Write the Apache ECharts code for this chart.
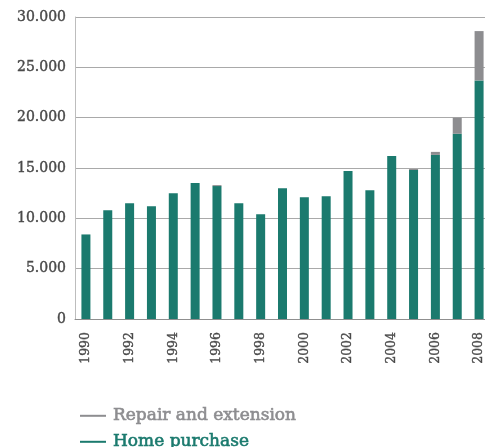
<!DOCTYPE html>
<html>
<head>
<meta charset="utf-8">
<script src="https://cdn.jsdelivr.net/npm/echarts@6/dist/echarts.min.js"></script>
<style>
  html, body { margin: 0; padding: 0; background: #fff; }
  #chart { width: 485px; height: 447px; }
</style>
</head>
<body>
<div id="chart"></div>
<script>
// Lending volumes per year, split into home purchase and repair/extension
const years = ['1990','1991','1992','1993','1994','1995','1996','1997','1998','1999',
               '2000','2001','2002','2003','2004','2005','2006','2007','2008'];
const homePurchase = [8400, 10800, 11500, 11200, 12500, 13500, 13200, 11500, 10400, 13000,
                      12100, 12200, 14700, 12800, 16200, 14800, 16300, 18400, 23700];
const repairExtension = [0, 0, 0, 0, 0, 0, 100, 0, 0, 0,
                         0, 0, 0, 0, 0, 100, 300, 1600, 4900];
const yTicks = [0, 5000, 10000, 15000, 20000, 25000, 30000];

const TEAL = '#1b7a6e';
const GREY = '#8d8d90';
const LABEL = '#4a4a4a';
const SERIF = '"DejaVu Serif", "Liberation Serif", serif';

function fmt(v) {
  return String(v).replace(/\B(?=(\d{3})+(?!\d))/g, '.');
}

// one legend entry per row, stacked under the chart
function legendRow(name, color, top) {
  return {
    left: 75,
    top: top,
    itemWidth: 26,
    itemHeight: 2,
    icon: 'rect',
    data: [name],
    textStyle: {
      fontFamily: SERIF,
      fontSize: 17,
      color: color,
      textBorderColor: color,
      textBorderWidth: 0.6,
      padding: [0, 0, 0, 2]
    }
  };
}

const chart = echarts.init(document.getElementById('chart'), null, { renderer: 'canvas' });
chart.setOption({
  animation: false,
  grid: { left: 75, top: 17, width: 415, height: 302, outerBoundsMode: 'none' },
  legend: [
    legendRow('Repair and extension', GREY, 402),
    legendRow('Home purchase', TEAL, 428)
  ],
  xAxis: {
    type: 'category',
    data: years,
    axisLine: { show: true, lineStyle: { color: '#8f8f8f', width: 1 } },
    axisTick: { show: false },
    axisLabel: {
      interval: 1,
      rotate: 90,
      margin: 13,
      fontFamily: SERIF,
      fontSize: 12.5,
      color: LABEL,
      textBorderColor: LABEL,
      textBorderWidth: 0.4
    }
  },
  yAxis: {
    type: 'value',
    min: yTicks[0],
    max: yTicks[yTicks.length - 1],
    interval: yTicks[1] - yTicks[0],
    axisLine: { show: true, lineStyle: { color: '#bdbdbd', width: 1 } },
    axisTick: { show: false },
    splitLine: { show: true, lineStyle: { color: '#a9a9a9', width: 1 } },
    axisLabel: {
      margin: 9,
      fontFamily: SERIF,
      fontSize: 14,
      color: LABEL,
      textBorderColor: LABEL,
      textBorderWidth: 0.4,
      formatter: fmt
    }
  },
  series: [
    {
      name: 'Home purchase',
      type: 'bar',
      stack: 'total',
      barWidth: 9,
      data: homePurchase,
      itemStyle: { color: TEAL }
    },
    {
      name: 'Repair and extension',
      type: 'bar',
      stack: 'total',
      barWidth: 9,
      data: repairExtension,
      itemStyle: { color: GREY }
    }
  ]
});
</script>
</body>
</html>
